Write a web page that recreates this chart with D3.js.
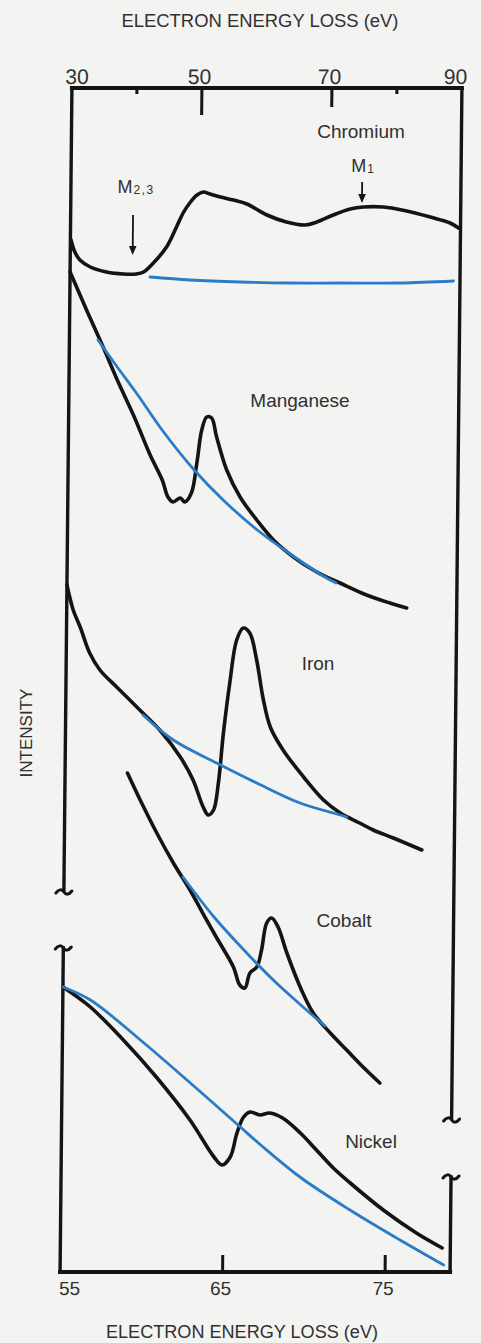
<!DOCTYPE html>
<html><head><meta charset="utf-8">
<script src="https://cdn.jsdelivr.net/npm/d3@7"></script>
<style>
html,body{margin:0;padding:0;background:#f3f3f1;}
svg{display:block;}
text{font-family:"Liberation Sans", Arial, sans-serif; fill:#303030;}
</style></head><body>
<svg id="chart" width="481" height="1343"></svg>
<script>
// ---------- DATA (energy in eV, intensity in arbitrary offset units) ----------
const topTicks = [30, 50, 70, 90];
const topMinorTicks = [40, 80];
const bottomTicks = [55, 65, 75];
const axisTitle = "ELECTRON ENERGY LOSS (eV)";
const yTitle = "INTENSITY";

const crEnergy    = [30.1, 30.7, 31.5, 33.1, 35.6, 38.2, 40.2, 41.3, 42.8, 44.8, 46.3, 47.3, 48.3, 49.4, 50.4, 51.4, 53.0, 55.0, 57.1, 60.2, 63.2, 66.1, 67.9, 70.4, 73.0, 75.0, 78.1, 81.7, 85.3, 88.4, 89.7];
const crIntensity = [103.2, 102.0, 101.2, 100.5, 100.0, 99.8, 99.8, 100.0, 100.9, 102.5, 104.5, 105.9, 106.9, 107.7, 108.0, 107.8, 107.5, 107.2, 106.8, 105.7, 105.0, 104.7, 105.0, 105.7, 106.3, 106.5, 106.5, 106.1, 105.5, 104.9, 104.4];
const crBgEnergy    = [42.3, 48.5, 56.2, 64.0, 71.5, 80.8, 89.0];
const crBgIntensity = [99.5, 99.2, 99.0, 98.9, 98.9, 98.9, 99.1];

const mnEnergy    = [30.0, 32.8, 35.2, 37.5, 40.1, 42.6, 44.5, 45.4, 46.2, 47.3, 48.0, 49.0, 49.8, 50.5, 51.25, 52.0, 52.8, 54.4, 56.5, 59.1, 61.7, 64.8, 68.4, 72.0, 76.1, 79.7, 82.3];
const mnIntensity = [100.0, 95.9, 92.5, 89.1, 85.5, 81.7, 79.2, 77.5, 77.0, 77.4, 77.0, 77.9, 80.9, 84.2, 85.5, 85.4, 83.5, 80.2, 77.5, 75.2, 73.2, 71.5, 70.0, 68.9, 67.7, 66.9, 66.4];
const mnBgEnergy    = [34.4, 37.4, 40.5, 44.4, 49.4, 53.9, 59.2, 64.3, 69.4, 71.4];
const mnBgIntensity = [93.2, 90.5, 87.8, 84.2, 80.2, 77.2, 74.2, 71.8, 69.6, 68.9];

const feEnergy    = [30.0, 31.0, 32.1, 33.6, 35.2, 37.8, 41.4, 44.5, 47.7, 49.7, 51.3, 52.1, 52.9, 53.6, 54.3, 55.2, 56.2, 57.2, 58.2, 59.3, 60.4, 61.5, 63.5, 66.7, 69.8, 72.4, 75.4, 77.5, 80.6, 85.0];
const feIntensity = [68.7, 66.2, 64.5, 61.9, 60.2, 58.5, 56.2, 54.2, 51.5, 49.2, 46.5, 45.7, 46.2, 48.9, 53.9, 58.9, 63.2, 64.4, 63.9, 61.2, 57.2, 54.5, 52.2, 49.5, 47.2, 45.9, 44.9, 44.2, 43.4, 42.2];
const feBgEnergy    = [41.9, 46.6, 53.3, 59.5, 66.2, 72.4, 73.4];
const feBgIntensity = [55.7, 53.2, 50.9, 48.9, 46.9, 45.7, 45.5];

const coEnergy    = [39.6, 41.6, 44.2, 46.8, 49.4, 52.0, 53.6, 56.2, 57.2, 58.0, 58.75, 59.8, 60.5, 61.25, 62.0, 63.0, 64.4, 66.5, 68.55, 71.2, 73.75, 76.3, 78.9];
const coIntensity = [49.9, 47.2, 43.9, 40.9, 38.2, 35.2, 33.4, 30.5, 28.7, 28.4, 29.9, 30.5, 32.2, 34.9, 35.4, 34.5, 31.9, 28.5, 25.9, 23.9, 22.2, 20.5, 18.9];
const coBgEnergy    = [48.3, 53.0, 57.2, 62.35, 67.5, 70.4];
const coBgIntensity = [39.5, 35.6, 32.6, 29.2, 26.2, 24.6];

const niEnergy    = [55.0, 56.7, 58.75, 60.8, 62.9, 64.4, 64.9, 65.4, 65.8, 66.2, 66.6, 67.2, 67.8, 68.6, 69.7, 70.7, 71.75, 72.8, 74.85, 76.9, 78.5];
const niIntensity = [28.5, 26.5, 23.2, 19.5, 15.2, 11.5, 10.7, 11.5, 13.9, 15.5, 16.0, 15.7, 15.9, 15.4, 13.9, 12.2, 10.4, 8.9, 6.2, 3.9, 2.4];
const niBgEnergy    = [55.0, 56.7, 59.8, 62.9, 66.0, 67.2, 69.7, 72.8, 75.9, 78.6];
const niBgIntensity = [28.5, 27.2, 23.2, 18.9, 14.5, 12.8, 9.5, 6.2, 3.2, 0.7];

// edge markers (eV, intensity from, intensity to)
const m23Marker = [39.6, 105.7, 101.7];
const m1Marker  = [74.8, 109.0, 106.9];

// ---------- LAYOUT ----------
const svg = d3.select("#chart");
const frame = {left: 66, right: 456, top: 88, bottom: 1272};
const xTop = d3.scaleLinear().domain([30, 90]).range([frame.left, frame.right]);
const xBottom = d3.scaleLinear().domain([55, 79]).range([frame.left, frame.right]);
const y = d3.scaleLinear().domain([0, 118.4]).range([frame.bottom, frame.top]);

const zip = (a, b) => a.map((v, k) => [v, b[k]]);
const spectra = [
  {name: "Chromium",  x: xTop,    pts: zip(crEnergy, crIntensity), bg: zip(crBgEnergy, crBgIntensity), lx: 361, ly: 138},
  {name: "Manganese", x: xTop,    pts: zip(mnEnergy, mnIntensity), bg: zip(mnBgEnergy, mnBgIntensity), lx: 300, ly: 407},
  {name: "Iron",      x: xTop,    pts: zip(feEnergy, feIntensity), bg: zip(feBgEnergy, feBgIntensity), lx: 318, ly: 670},
  {name: "Cobalt",    x: xTop,    pts: zip(coEnergy, coIntensity), bg: zip(coBgEnergy, coBgIntensity), lx: 344, ly: 927},
  {name: "Nickel",    x: xBottom, pts: zip(niEnergy, niIntensity), bg: zip(niBgEnergy, niBgIntensity), lx: 371, ly: 1148}
];

// the photographed figure is slightly sheared
const g = svg.append("g").attr("transform", "translate(0,680) skewX(-0.573) translate(0,-680)");

const ink = "#141414", blue = "#2b7cc6";

// frame
const brk = {leftA: 892, leftB: 948, rightA: 1120, rightB: 1177};
const seg = (x1, y1, x2, y2) => g.append("line").attr("x1", x1).attr("y1", y1).attr("x2", x2).attr("y2", y2)
  .attr("stroke", ink).attr("stroke-width", 3.4).attr("stroke-linecap", "square");
seg(frame.left, frame.top, frame.right, frame.top).attr("stroke-width", 4);
seg(frame.left, frame.bottom, frame.right, frame.bottom).attr("stroke-width", 4);
seg(frame.left, frame.top, frame.left, brk.leftA).attr("stroke-linecap", "butt");
seg(frame.left, brk.leftB, frame.left, frame.bottom);
seg(frame.right, frame.top, frame.right, brk.rightA).attr("stroke-linecap", "butt");
seg(frame.right, brk.rightB, frame.right, frame.bottom);

const squiggle = (x, yy) => g.append("path")
  .attr("d", `M${x-8},${yy+1} C${x-5},${yy-3} ${x-2},${yy-3} ${x},${yy} S${x+5},${yy+3} ${x+8},${yy-1}`)
  .attr("fill", "none").attr("stroke", ink).attr("stroke-width", 3).attr("stroke-linecap", "round");
squiggle(frame.left, brk.leftA);
squiggle(frame.left, brk.leftB);
squiggle(frame.right, brk.rightA);
squiggle(frame.right, brk.rightB);

// top ticks
const topLen = v => v === 50 ? 27 : v === 70 ? 19 : 6;
[...topTicks.slice(1, -1), ...topMinorTicks].forEach(v => {
  g.append("line").attr("x1", xTop(v)).attr("x2", xTop(v)).attr("y1", frame.top).attr("y2", frame.top + topLen(v))
    .attr("stroke", ink).attr("stroke-width", 3);
});
const topNudge = v => v === 30 ? 5 : v === 90 ? -6.5 : -2.5;
g.selectAll(".tt").data(topTicks).join("text").attr("class", "tt")
  .attr("x", d => xTop(d) + topNudge(d)).attr("y", 84.5).attr("text-anchor", "middle")
  .attr("font-size", 21).text(d => d);

// bottom ticks
bottomTicks.slice(1).forEach(v => {
  g.append("line").attr("x1", xBottom(v)).attr("x2", xBottom(v)).attr("y1", frame.bottom).attr("y2", frame.bottom - 17)
    .attr("stroke", ink).attr("stroke-width", 3);
});
const botNudge = v => v === 55 ? 9.6 : -1.8;
g.selectAll(".bt").data(bottomTicks).join("text").attr("class", "bt")
  .attr("x", d => xBottom(d) + botNudge(d)).attr("y", 1295).attr("text-anchor", "middle")
  .attr("font-size", 19).text(d => d);

// spectra
spectra.forEach(s => {
  const line = d3.line().x(d => s.x(d[0])).y(d => y(d[1])).curve(d3.curveCatmullRom.alpha(0.5));
  g.append("path").attr("d", line(s.pts)).attr("fill", "none").attr("stroke", ink)
    .attr("stroke-width", 3.6).attr("stroke-linejoin", "round").attr("stroke-linecap", "round");
  g.append("path").attr("d", line(s.bg)).attr("fill", "none").attr("stroke", blue)
    .attr("stroke-width", 2.8).attr("stroke-linecap", "round");
});

// edge arrows
[m23Marker, m1Marker].forEach(m => {
  const ax = xTop(m[0]), y0 = y(m[1]), y1 = y(m[2]);
  g.append("line").attr("x1", ax).attr("x2", ax).attr("y1", y0).attr("y2", y1 - 6)
    .attr("stroke", ink).attr("stroke-width", 1.8);
  g.append("path").attr("d", `M${ax-3.8},${y1-9} L${ax+3.8},${y1-9} L${ax},${y1} Z`).attr("fill", ink);
});

// texts (in picture coordinates)
svg.append("text").attr("x", 260).attr("y", 27).attr("text-anchor", "middle").attr("font-size", 18)
  .attr("textLength", 277).attr("lengthAdjust", "spacingAndGlyphs").text(axisTitle);
svg.append("text").attr("x", 242).attr("y", 1338).attr("text-anchor", "middle").attr("font-size", 18)
  .attr("textLength", 272).attr("lengthAdjust", "spacingAndGlyphs").text(axisTitle);
svg.append("text").attr("transform", "translate(32,733) rotate(-90)").attr("text-anchor", "middle")
  .attr("font-size", 17).text(yTitle);

spectra.forEach(s => {
  svg.append("text").attr("x", s.lx).attr("y", s.ly).attr("text-anchor", "middle").attr("font-size", 19).text(s.name);
});
const m23 = svg.append("text").attr("x", 136).attr("y", 193).attr("text-anchor", "middle").attr("font-size", 18);
m23.append("tspan").text("M");
m23.append("tspan").attr("font-size", 12).attr("dx", 1).attr("dy", 1).attr("letter-spacing", 1.5).text("2,3");
const m1 = svg.append("text").attr("x", 362.5).attr("y", 172).attr("text-anchor", "middle").attr("font-size", 18);
m1.append("tspan").text("M");
m1.append("tspan").attr("font-size", 12).attr("dx", 1).attr("dy", 1).text("1");
</script>
</body></html>
